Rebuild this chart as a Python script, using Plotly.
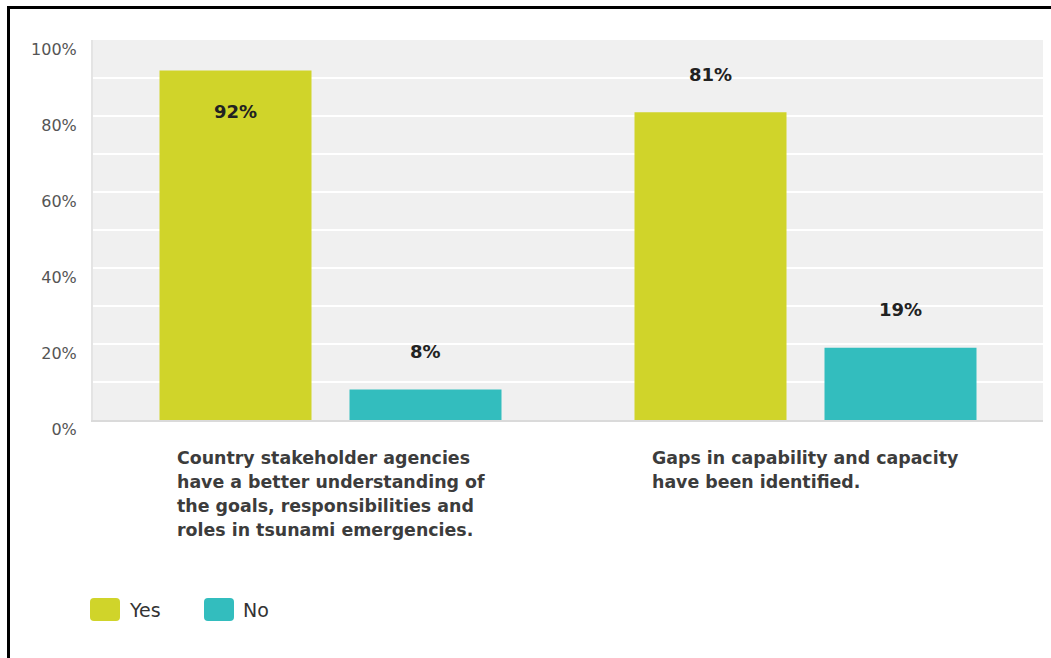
import plotly.graph_objects as go

# Survey results: share of respondents answering Yes / No
categories = [
    "Country stakeholder agencies<br>have a better understanding of<br>the goals, responsibilities and<br>roles in tsunami emergencies.",
    "Gaps in capability and capacity<br>have been identified.",
]
yes_values = [92, 81]
no_values = [8, 19]
series_names = ["Yes", "No"]
y_tick_values = [0, 20, 40, 60, 80, 100]

YES_COLOR = "#D0D42A"
NO_COLOR = "#33BDBE"

W, H = 1051, 658
ML, MR, MT, MB = 93, 8, 40, 238
PW, PH = W - ML - MR, H - MT - MB


def px(x):
    """Pixel column -> paper x."""
    return (x - ML) / PW


def py(y):
    """Pixel row -> paper y."""
    return (H - MB - y) / PH


fig = go.Figure()
fig.add_trace(go.Bar(x=categories, y=yes_values, name=series_names[0],
                     marker=dict(color=YES_COLOR, line=dict(width=0)),
                     hovertemplate="%{y}%<extra>Yes</extra>"))
fig.add_trace(go.Bar(x=categories, y=no_values, name=series_names[1],
                     marker=dict(color=NO_COLOR, line=dict(width=0)),
                     hovertemplate="%{y}%<extra>No</extra>"))

annotations = []
# value labels above each bar (inside when the bar nearly fills the axis)
for values, shift in ((yes_values, -95), (no_values, 95)):
    for cat, v in zip(categories, values):
        annotations.append(dict(
            x=cat, y=v, xref="x", yref="y", xshift=shift,
            yshift=-41 if v > 85 else 38,
            text=f"<b>{v}%</b>", showarrow=False,
            font=dict(family="DejaVu Sans", size=18, color="#222222"),
            xanchor="center", yanchor="middle"))

# left-aligned multi-line category labels under each group
for cat in categories:
    for i, line in enumerate(cat.split("<br>")):
        annotations.append(dict(
            x=cat, y=py(458 + 24 * i), xref="x", yref="paper", xshift=-156,
            text=f"<b>{line}</b>", showarrow=False,
            font=dict(family="DejaVu Sans", size=17.4, color="#3c3c3c"),
            xanchor="left", yanchor="middle"))

# legend entries
shapes = []
swatch = ("M4,-11.5 H26 Q30,-11.5 30,-7.5 V7.5 Q30,11.5 26,11.5 H4 "
          "Q0,11.5 0,7.5 V-7.5 Q0,-11.5 4,-11.5 Z")
for name, color, sx in ((series_names[0], YES_COLOR, 90), (series_names[1], NO_COLOR, 204)):
    shapes.append(dict(type="path", xref="paper", yref="paper",
                       xsizemode="pixel", ysizemode="pixel",
                       xanchor=px(sx), yanchor=py(609.5), path=swatch,
                       fillcolor=color, line=dict(width=0)))
    annotations.append(dict(x=px(sx + 37), y=py(609.5), xref="paper", yref="paper",
                            text=name, showarrow=False, xanchor="left", yanchor="middle",
                            font=dict(family="DejaVu Sans", size=19, color="#333333")))

# frame lines along the top and left edges
shapes.append(dict(type="line", xref="paper", yref="paper",
                   x0=px(7), x1=px(W), y0=py(7.5), y1=py(7.5),
                   line=dict(color="black", width=3)))
shapes.append(dict(type="line", xref="paper", yref="paper",
                   x0=px(8.5), x1=px(8.5), y0=py(6), y1=py(H),
                   line=dict(color="black", width=3)))

fig.update_layout(
    width=W, height=H,
    margin=dict(l=ML, r=MR, t=MT, b=MB, pad=0),
    paper_bgcolor="white", plot_bgcolor="#F0F0F0",
    barmode="group", bargap=0.2, bargroupgap=0.2,
    showlegend=False,
    annotations=annotations, shapes=shapes,
    font=dict(family="DejaVu Sans"),
)
fig.update_xaxes(showticklabels=False, showgrid=False, ticks="",
                 showline=True, linecolor="#DADADA", linewidth=2,
                 zeroline=False, fixedrange=True)
fig.update_yaxes(range=[0, 100], tickmode="array", tickvals=y_tick_values,
                 ticktext=[f"{v}%" for v in y_tick_values],
                 showgrid=True, gridcolor="white", gridwidth=2,
                 minor=dict(dtick=10, showgrid=True, gridcolor="white", gridwidth=2),
                 ticks="", ticklabelstandoff=11, ticklabelshift=9,
                 tickfont=dict(family="DejaVu Sans", size=16, color="#555555"),
                 showline=True, linecolor="#E4E4E4", linewidth=2,
                 zeroline=False, fixedrange=True)

fig.write_html("out.html")
